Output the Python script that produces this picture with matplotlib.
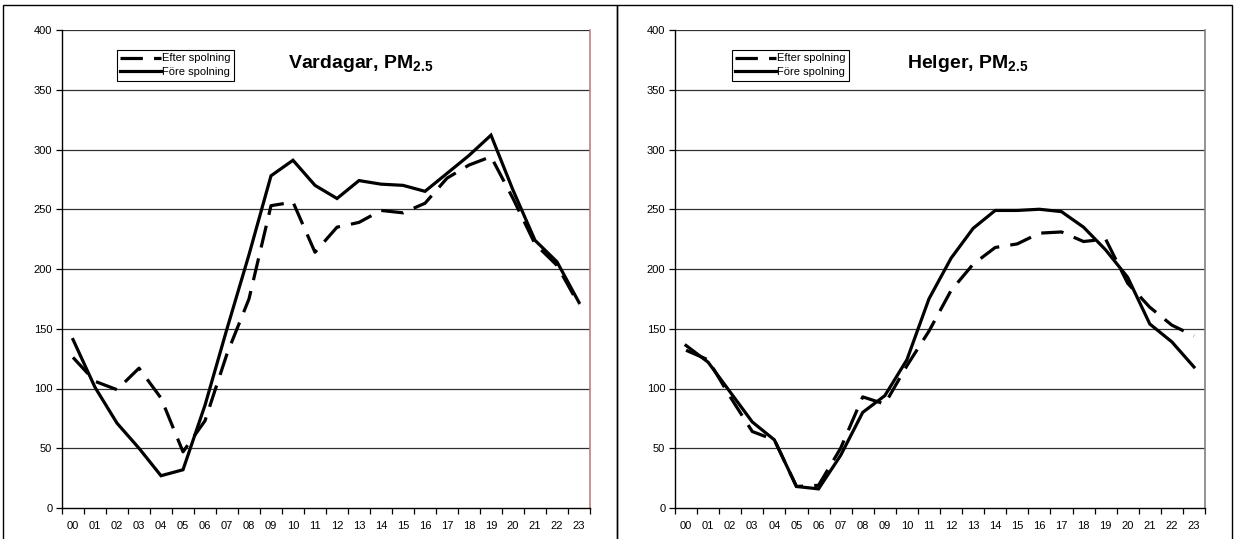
import numpy as np
import matplotlib
matplotlib.use('Agg')
import matplotlib.pyplot as plt
from matplotlib.patches import Rectangle

# Hours of the day
hours = ['%02d' % h for h in range(24)]

# Weekdays (Vardagar)
vardagarEfter = [126, 106, 99, 117, 92, 47, 73, 129, 175, 253, 256, 214,
                 235, 239, 249, 247, 255, 276, 287, 294, 259, 221, 203, 170]
vardagarFore = [141, 101, 71, 50, 27, 32, 86, 150, 212, 278, 291, 270,
                259, 274, 271, 270, 265, 280, 295, 312, 266, 224, 206, 172]

# Weekends (Helger)
helgerEfter = [132, 124, 93, 64, 57, 18, 19, 50, 93, 87, 119, 148,
               182, 204, 218, 221, 230, 231, 223, 225, 188, 168, 153, 144]
helgerFore = [136, 122, 97, 72, 57, 18, 16, 44, 80, 94, 124, 175,
              209, 234, 249, 249, 250, 248, 235, 216, 193, 154, 139, 118]

titles = ['Vardagar', 'Helger']
legendLabels = ['Efter spolning', 'Före spolning']


def plotPanel(ax, efter, fore, title, rightSpineColor, titleX, legendX):
  x = np.arange(len(hours))
  lw = 2.3
  ax.plot(x, efter, color = 'black', linewidth = lw, dashes = (7, 3.5),
          label = legendLabels[0], solid_joinstyle = 'miter', zorder = 3)
  ax.plot(x, fore, color = 'black', linewidth = lw, label = legendLabels[1],
          solid_joinstyle = 'miter', zorder = 3)

  # Limits and ticks
  ax.set_xlim(-0.5, 23.5)
  ax.set_ylim(0, 400)
  ax.set_xticks(x)
  ax.set_xticklabels(hours, fontsize = 8)
  ax.set_xticks(np.arange(-0.5, 24, 1), minor = True)
  ax.tick_params(axis = 'x', which = 'major', length = 0, pad = 9.5)
  ax.tick_params(axis = 'x', which = 'minor', length = 4, direction = 'out', width = 0.9)
  ax.set_yticks(range(0, 401, 50))
  ax.tick_params(axis = 'y', length = 4, direction = 'out', width = 0.9, labelsize = 8, pad = 3)

  # Grid
  for yv in range(50, 401, 50):
    ax.axhline(yv, color = '#303030', linewidth = 0.9, zorder = 1)

  # Spines
  ax.spines['top'].set_visible(False)
  ax.spines['right'].set_color(rightSpineColor)
  ax.spines['right'].set_linewidth(1.2)
  ax.spines['left'].set_linewidth(1.0)
  ax.spines['bottom'].set_linewidth(1.0)

  # Title inside
  ax.text(titleX, 0.920, title + r', PM$_{\mathbf{2.5}}$', transform = ax.transAxes,
          fontsize = 14, fontweight = 'bold', ha = 'left', va = 'baseline')

  # Legend
  leg = ax.legend(loc = 'upper left', bbox_to_anchor = (legendX, 0.958), fontsize = 8,
                  fancybox = False, framealpha = 1, edgecolor = 'black',
                  handlelength = 3.7, handletextpad = 0.05, borderpad = 0.3,
                  labelspacing = 0.35, borderaxespad = 0)
  leg.get_frame().set_linewidth(0.8)

  return


matplotlib.rcParams['font.family'] = ['Liberation Sans', 'DejaVu Sans']
matplotlib.rcParams['mathtext.fontset'] = 'custom'
matplotlib.rcParams['mathtext.rm'] = 'Liberation Sans'
matplotlib.rcParams['mathtext.bf'] = 'Liberation Sans:bold'

fig = plt.figure(figsize = (12.35, 5.39), dpi = 100)

axLeft = fig.add_axes([62 / 1235, 31 / 539, 528 / 1235, 478 / 539])
axRight = fig.add_axes([675 / 1235, 31 / 539, 530 / 1235, 478 / 539])

plotPanel(axLeft, vardagarEfter, vardagarFore, titles[0], '#c08080', 0.428, 0.104)
plotPanel(axRight, helgerEfter, helgerFore, titles[1], '#808080', 0.438, 0.1075)

# Panel borders
fig.add_artist(Rectangle((3 / 1235, -0.01), 614 / 1235, 534 / 539 + 0.01, transform = fig.transFigure,
                         fill = False, edgecolor = 'black', linewidth = 1.0))
fig.add_artist(Rectangle((617 / 1235, -0.01), 615 / 1235, 534 / 539 + 0.01, transform = fig.transFigure,
                         fill = False, edgecolor = 'black', linewidth = 1.0))

plt.savefig('out.png', dpi = 100)
